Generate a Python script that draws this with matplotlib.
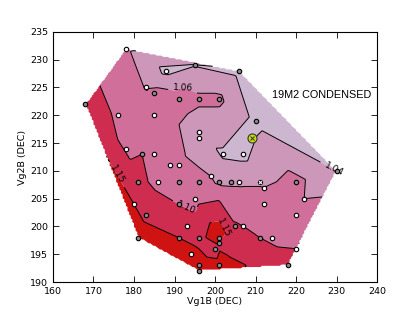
import numpy as np
import matplotlib
matplotlib.use("Agg")
import matplotlib.pyplot as plt
import matplotlib.tri as mtri

# measured points (Vg1B, Vg2B), response value, marker fill type
px = [178, 188, 195, 183, 185, 191, 196, 168, 176, 185, 196, 196, 178, 182, 185,
      206, 201, 210, 202, 207, 189, 191, 199, 181, 186, 191, 196, 201, 204, 206,
      211, 212, 220, 212, 222, 220, 230, 195, 191, 180, 183, 193, 181, 191, 196,
      194, 196, 196, 207, 205, 201, 201, 200, 211, 214, 220, 201, 218]
py = [232, 228, 229, 225, 224, 223, 223, 222, 220, 220, 217, 216, 214, 213, 213,
      228, 223, 219, 213, 213, 211, 211, 209, 208, 208, 208, 208, 208, 208, 208,
      208, 207, 208, 204, 205, 202, 210, 205, 204, 204, 202, 200, 198, 198, 198,
      195, 193, 192, 200, 200, 198, 197, 196, 198, 198, 196, 193, 193]
pv = [1.063, 1.035, 1.039, 1.058, 1.068, 1.070, 1.064, 1.120, 1.095, 1.075, 1.048, 1.048, 1.095, 1.100, 1.080,
      1.035, 1.064, 1.035, 1.037, 1.035, 1.070, 1.066, 1.060, 1.110, 1.090, 1.080, 1.066, 1.056, 1.055, 1.055,
      1.055, 1.060, 1.066, 1.080, 1.060, 1.075, 1.040, 1.085, 1.100, 1.150, 1.130, 1.120, 1.200, 1.150, 1.130,
      1.170, 1.180, 1.180, 1.100, 1.105, 1.190, 1.140, 1.120, 1.100, 1.090, 1.100, 1.170, 1.120]
pfill = ['w', 'w', 'g', 'w', 'g', 'g', 'g', 'g', 'w', 'w', 'w', 'w', 'w', 'g', 'w',
         'g', 'g', 'g', 'w', 'w', 'w', 'w', 'w', 'g', 'w', 'g', 'g', 'g', 'g', 'w',
         'x', 'w', 'g', 'w', 'w', 'w', 'g', 'w', 'g', 'w', 'g', 'w', 'g', 'g', 'g',
         'w', 'g', 'g', 'w', 'g', 'g', 'g', 'g', 'g', 'w', 'w', 'g', 'g']

best_x, best_y = [209], [216]

levels = [1.00, 1.04, 1.06, 1.10, 1.15, 1.40]
line_levels = [1.04, 1.06, 1.10, 1.15]
band_colors = ['#cdb6cf', '#cd97ba', '#d0709a', '#cf2d50', '#cf1313']
label_pos = [(229, 210), (192, 225.3), (193, 203.5), (176, 209.5), (201.5, 199.5)]

xticks = [160, 170, 180, 190, 200, 210, 220, 230, 240]
yticks = [190, 195, 200, 205, 210, 215, 220, 225, 230, 235]

fig = plt.figure(figsize=(4.2, 3.22), dpi=100)
ax = fig.add_axes([0.126, 0.124, 0.772, 0.777])

x = np.array(px, float)
y = np.array(py, float)
v = np.array(pv, float)
tri = mtri.Triangulation(x, y)
interp = mtri.LinearTriInterpolator(tri, v)
xi = np.linspace(160, 240, 201)
yi = np.linspace(190, 235, 201)
Xi, Yi = np.meshgrid(xi, yi)
Zi = interp(Xi, Yi)

ax.contourf(Xi, Yi, Zi, levels=levels, colors=band_colors, antialiased=True)
cs = ax.contour(Xi, Yi, Zi, levels=line_levels, colors='k', linewidths=0.7)
ax.clabel(cs, fmt='%.2f', fontsize=6.5, inline=True, manual=label_pos)

for xx, yy, f in zip(px, py, pfill):
    if f == 'w':
        ax.plot(xx, yy, 'o', ms=3.2, mfc='white', mec='black', mew=0.8, zorder=5)
    elif f == 'g':
        ax.plot(xx, yy, 'o', ms=3.2, mfc='#8a8a8a', mec='black', mew=0.8, zorder=5)
    else:
        ax.plot(xx, yy, 's', ms=3.4, mfc='#555555', mec='black', mew=0.8, zorder=5)
        ax.plot(xx, yy, 'x', ms=3.0, mec='white', mew=0.7, zorder=6)

ax.plot(best_x, best_y, 'o', ms=6.5, mfc='#c6dc10', mec='#333333', mew=0.8, zorder=6)
ax.plot(best_x, best_y, 'x', ms=3.0, mec='#333333', mew=0.7, zorder=7)

ax.text(214, 223.6, '19M2 CONDENSED', fontsize=7.8, family='Liberation Sans',
        va='center', ha='left')

ax.set_xlim(160, 240)
ax.set_ylim(190, 235)
ax.set_xticks(xticks)
ax.set_yticks(yticks)
ax.tick_params(direction='in', top=True, right=True, labelsize=6.8, length=4, width=0.6)
ax.set_xlabel('Vg1B (DEC)', fontsize=6.8, labelpad=1)
ax.set_ylabel('Vg2B (DEC)', fontsize=6.8, labelpad=2)
for s in ax.spines.values():
    s.set_linewidth(0.8)

fig.savefig('out.png', dpi=100)
